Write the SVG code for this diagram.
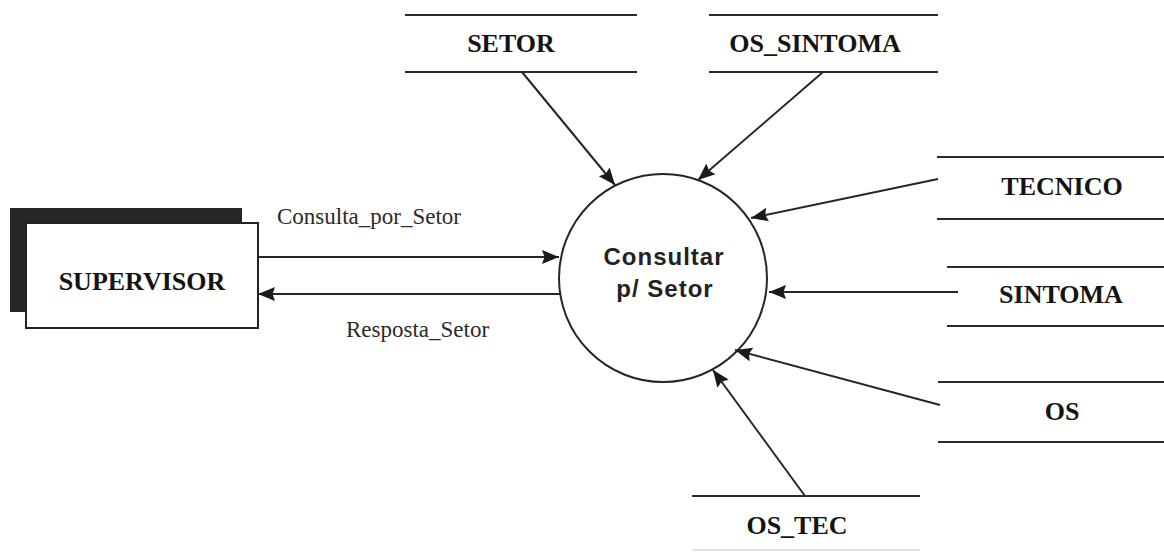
<svg xmlns="http://www.w3.org/2000/svg" width="1164" height="554" viewBox="0 0 1164 554">
  <defs>
    <marker id="arrow" markerUnits="userSpaceOnUse" markerWidth="20" markerHeight="18" refX="17" refY="8" orient="auto">
      <path d="M0,1 L17,8 L0,15 L2.5,8 Z" fill="#1a1a1a"/>
    </marker>
  </defs>
  <style>
    .flow { stroke: #262626; stroke-width: 2; fill: none; marker-end: url(#arrow); }
    .store { stroke: #2a2a2a; stroke-width: 2; }
    .store-faint { stroke: #e2e2e2; stroke-width: 2; }
    .store-label { font-family: "Liberation Serif", "Times New Roman", serif; font-weight: bold; font-size: 26px; fill: #141414; }
    .flow-label { font-family: "Liberation Serif", "Times New Roman", serif; font-size: 23px; fill: #2a2a2a; }
    .process-label { font-family: "Liberation Sans", Arial, sans-serif; font-weight: bold; font-size: 24px; letter-spacing: 1px; fill: #222; text-anchor: middle; }
  </style>
  <rect width="1164" height="554" fill="#ffffff"/>

  <!-- External entity -->
  <g id="supervisor">
    <rect x="10" y="208" width="232" height="104" fill="#262626"/>
    <rect x="26" y="223" width="232" height="105" fill="#ffffff" stroke="#222" stroke-width="2"/>
    <text class="store-label" x="142" y="290" text-anchor="middle">SUPERVISOR</text>
  </g>

  <!-- Process -->
  <g id="consultar-setor">
    <circle cx="663" cy="278" r="104" fill="#ffffff" stroke="#262626" stroke-width="2"/>
    <text class="process-label" x="664" y="265">Consultar</text>
    <text class="process-label" x="665" y="297">p/ Setor</text>
  </g>

  <!-- Data stores -->
  <g id="store-setor">
    <line class="store" x1="405" y1="15" x2="637" y2="15"/>
    <line class="store" x1="405" y1="72" x2="637" y2="72"/>
    <text class="store-label" x="511" y="52" text-anchor="middle">SETOR</text>
  </g>
  <g id="store-os-sintoma">
    <line class="store" x1="709" y1="15" x2="938" y2="15"/>
    <line class="store" x1="709" y1="72" x2="938" y2="72"/>
    <text class="store-label" x="815" y="52" text-anchor="middle">OS_SINTOMA</text>
  </g>
  <g id="store-tecnico">
    <line class="store" x1="937" y1="157" x2="1164" y2="157"/>
    <line class="store" x1="937" y1="219" x2="1164" y2="219"/>
    <text class="store-label" x="1062" y="195" text-anchor="middle">TECNICO</text>
  </g>
  <g id="store-sintoma">
    <line class="store" x1="947" y1="267" x2="1164" y2="267"/>
    <line class="store" x1="947" y1="326" x2="1164" y2="326"/>
    <text class="store-label" x="1061" y="303" text-anchor="middle">SINTOMA</text>
  </g>
  <g id="store-os">
    <line class="store" x1="938" y1="382" x2="1164" y2="382"/>
    <line class="store" x1="938" y1="442" x2="1164" y2="442"/>
    <text class="store-label" x="1062" y="420" text-anchor="middle">OS</text>
  </g>
  <g id="store-os-tec">
    <line class="store" x1="692" y1="496" x2="920" y2="496"/>
    <line class="store-faint" x1="692" y1="550" x2="920" y2="550"/>
    <text class="store-label" x="797" y="534" text-anchor="middle">OS_TEC</text>
  </g>

  <!-- Data flows -->
  <g id="connectors">
    <line class="flow" x1="258" y1="257" x2="559" y2="257"/>
    <line class="flow" x1="560" y1="294" x2="258" y2="294"/>
    <line class="flow" x1="522" y1="72" x2="615" y2="185"/>
    <line class="flow" x1="823" y1="72" x2="698" y2="180"/>
    <line class="flow" x1="938" y1="179" x2="751" y2="218"/>
    <line class="flow" x1="958" y1="292" x2="769" y2="292"/>
    <line class="flow" x1="940" y1="405" x2="735" y2="350"/>
    <line class="flow" x1="805" y1="496" x2="713" y2="370"/>
    <text class="flow-label" x="277" y="224">Consulta_por_Setor</text>
    <text class="flow-label" x="346" y="337">Resposta_Setor</text>
  </g>
</svg>
